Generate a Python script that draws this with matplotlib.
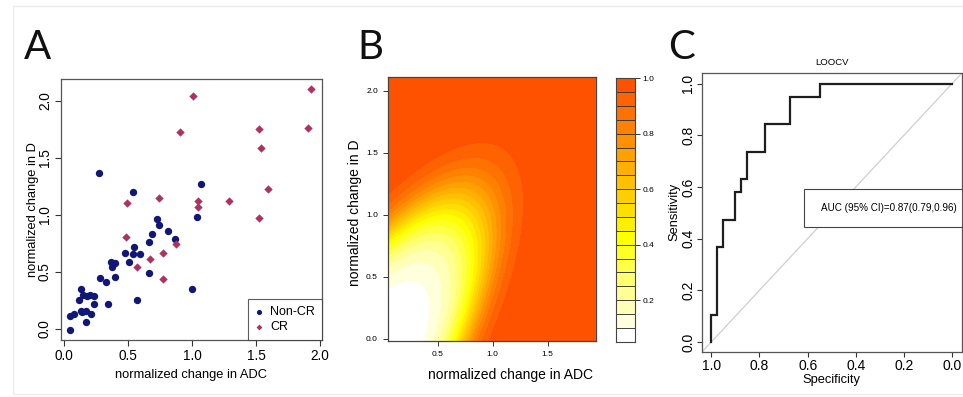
import numpy as np
import matplotlib
matplotlib.use("Agg")
import matplotlib.pyplot as plt
from matplotlib.patches import Rectangle
from matplotlib.colors import LinearSegmentedColormap

plt.rcParams['font.family'] = ['Liberation Sans', 'DejaVu Sans']

# ---------------- data ----------------
# Panel A: scatter (normalized change in ADC, normalized change in D)
noncr_adc = [0.05, 0.045, 0.075, 0.27, 0.54, 1.07, 1.04, 1.00, 0.57, 0.73,
             0.745, 0.81, 0.87, 0.69, 0.66, 0.66, 0.545, 0.475, 0.535, 0.59,
             0.51, 0.365, 0.40, 0.375, 0.40, 0.28, 0.325, 0.34, 0.135, 0.12,
             0.15, 0.18, 0.20, 0.235, 0.23, 0.14, 0.175, 0.21, 0.175, 0.13]
noncr_d = [-0.01, 0.115, 0.13, 1.37, 1.20, 1.27, 0.98, 0.35, 0.255, 0.96,
           0.915, 0.86, 0.79, 0.83, 0.76, 0.495, 0.72, 0.665, 0.66, 0.655,
           0.59, 0.585, 0.58, 0.54, 0.455, 0.45, 0.415, 0.22, 0.35, 0.25,
           0.30, 0.29, 0.30, 0.29, 0.22, 0.145, 0.155, 0.135, 0.06, 0.16]
cr_adc = [1.93, 1.01, 0.905, 1.525, 1.535, 1.905, 1.59, 1.285, 1.05, 1.045,
          1.525, 0.74, 0.49, 0.48, 0.875, 0.77, 0.675, 0.57, 0.775]
cr_d = [2.105, 2.04, 1.725, 1.75, 1.59, 1.765, 1.23, 1.125, 1.125, 1.065,
        0.975, 1.15, 1.10, 0.81, 0.745, 0.665, 0.61, 0.545, 0.435]

# Panel B: fitted logistic surface  logit(p) = b0 + b1*ADC + b2*D + b3*ADC^2 + b4*ADC*D + b5*D^2
coef_b0, coef_adc, coef_d = -3.17, 0.14, 1.285
coef_adc2, coef_adcd, coef_d2 = 6.41, -7.42, 3.74
prob_levels = [round(0.05 * k, 2) for k in range(1, 21)]   # 0.05 ... 1.00
cbar_ticks = [0.2, 0.4, 0.6, 0.8, 1.0]

# Panel C: ROC (LOOCV)
roc_spec = [1.0, 1.0, 0.975, 0.975, 0.95, 0.95, 0.90, 0.90, 0.875, 0.875,
            0.85, 0.85, 0.775, 0.775, 0.675, 0.675, 0.55, 0.55, 0.0]
roc_sens = [0.0, 0.105, 0.105, 0.368, 0.368, 0.474, 0.474, 0.579, 0.579, 0.632,
            0.632, 0.737, 0.737, 0.842, 0.842, 0.947, 0.947, 1.0, 1.0]
auc_text = "AUC (95% CI)=0.87(0.79,0.96)"

# ---------------- figure ----------------
W, H = 963, 397
fig = plt.figure(figsize=(W / 100, H / 100), dpi=100)


def rect(l, t, r, b):
    return [l / W, 1 - b / H, (r - l) / W, (b - t) / H]


def fx(x):
    return x / W


def fy(y):
    return 1 - y / H


# faint outer frame
fig.patches.append(Rectangle((fx(13), fy(394)), fx(963 - 13 + 5), (394 - 6) / H,
                             transform=fig.transFigure, fill=False,
                             edgecolor='#ececec', lw=1.0))

BLUE = '#111679'
RED = '#b03060'
FRAME = '#333333'

# ---------- Panel A ----------
axA = fig.add_axes(rect(61, 79, 321.7, 340))
axA.scatter(noncr_adc, noncr_d, s=28, c=BLUE, marker='o', linewidths=0, zorder=3)
axA.scatter(cr_adc, cr_d, s=18, c=RED, marker='D', linewidths=0, zorder=3)
axA.set_xlim(-0.024, 2.013)
axA.set_ylim(-0.096, 2.19)
axA.set_xticks([0.0, 0.5, 1.0, 1.5, 2.0])
axA.set_yticks([0.0, 0.5, 1.0, 1.5, 2.0])
axA.set_xticklabels(['0.0', '0.5', '1.0', '1.5', '2.0'], fontsize=9.8)
axA.set_yticklabels(['0.0', '0.5', '1.0', '1.5', '2.0'], fontsize=9.8,
                    rotation=90, va='center')
axA.tick_params(length=4, width=0.8, color=FRAME, pad=2.5)
for sp in axA.spines.values():
    sp.set_color('#555555')
    sp.set_linewidth(0.9)
leg = axA.legend(['Non-CR', 'CR'], loc='lower right', bbox_to_anchor=(1.0, 0.0),
                 borderaxespad=0, fontsize=9, handlelength=0.7, handletextpad=0.5,
                 borderpad=0.55, labelspacing=0.25, fancybox=False,
                 markerscale=0.7)
leg.get_frame().set_edgecolor('#333333')
leg.get_frame().set_linewidth(0.8)
fig.text(fx(191), fy(375), 'normalized change in ADC', fontsize=9.3,
         ha='center', va='center')
fig.text(fx(33), fy(210), 'normalized change in D', fontsize=9.3,
         ha='center', va='center', rotation=90)

# ---------- Panel B ----------
XMIN, XMAX, YMIN, YMAX = 0.045, 1.936, -0.02, 2.11
axB = fig.add_axes(rect(387.7, 77.3, 595.7, 341))
gx = np.linspace(XMIN, XMAX, 400)
gy = np.linspace(YMIN, YMAX, 400)
GX, GY = np.meshgrid(gx, gy)
logit = (coef_b0 + coef_adc * GX + coef_d * GY + coef_adc2 * GX ** 2
         + coef_adcd * GX * GY + coef_d2 * GY ** 2)
P = 1.0 / (1.0 + np.exp(-logit))
P = np.clip(P, 0, 0.99999)
cmap = LinearSegmentedColormap.from_list(
    'wyo', [(0.0, '#ffffff'), (7 / 18, '#ffff00'), (1.0, '#ff5200')])
nb = len(prob_levels) - 1
band_colors = [cmap(i / (nb - 1)) for i in range(nb)]
axB.contourf(GX, GY, P, levels=prob_levels, colors=band_colors, antialiased=True)
axB.contourf(GX, GY, P, levels=prob_levels, colors=band_colors, antialiased=True)
axB.set_xlim(XMIN, XMAX)
axB.set_ylim(YMIN, YMAX)
axB.set_xticks([0.5, 1.0, 1.5])
axB.set_xticklabels(['0.5', '1.0', '1.5'], fontsize=6)
axB.set_yticks([0.0, 0.5, 1.0, 1.5, 2.0])
axB.set_yticklabels(['0.0', '0.5', '1.0', '1.5', '2.0'], fontsize=6)
axB.tick_params(length=3.5, width=0.7, color=FRAME, pad=3.5)
for sp in axB.spines.values():
    sp.set_color('#444444')
    sp.set_linewidth(0.9)
fig.text(fx(510), fy(375), 'normalized change in ADC', fontsize=10,
         ha='center', va='center')
fig.text(fx(355), fy(213), 'normalized change in D', fontsize=10,
         ha='center', va='center', rotation=90)

# colour key
axK = fig.add_axes(rect(616, 78.3, 634.7, 341.7))
axK.bar([0] * nb, [prob_levels[i + 1] - prob_levels[i] for i in range(nb)],
        bottom=prob_levels[:-1], width=1.0, color=band_colors,
        edgecolor='#333333', linewidth=0.6)
axK.set_xlim(-0.5, 0.5)
axK.set_ylim(prob_levels[0], prob_levels[-1])
axK.set_xticks([])
axK.yaxis.tick_right()
axK.set_yticks(cbar_ticks)
axK.set_yticklabels([f'{t:.1f}' for t in cbar_ticks], fontsize=6)
axK.tick_params(length=3.5, width=0.7, color=FRAME, pad=2)
for sp in axK.spines.values():
    sp.set_color('#444444')
    sp.set_linewidth(0.8)

# ---------- Panel C ----------
axC = fig.add_axes(rect(701.7, 73.3, 961.7, 352.3))
axC.set_xlim(1.04, -0.04)
axC.set_ylim(-0.04, 1.04)
axC.axline((1.0, 0.0), (0.0, 1.0), color='#cfcfcf', lw=0.9, zorder=1)
axC.plot(roc_spec, roc_sens, color='#1e1e1e', lw=1.6, zorder=3,
         solid_joinstyle='miter')
ticksC = [1.0, 0.8, 0.6, 0.4, 0.2, 0.0]
axC.set_xticks(ticksC)
axC.set_xticklabels([f'{t:.1f}' for t in ticksC], fontsize=10)
axC.set_yticks(ticksC)
axC.set_yticklabels([f'{t:.1f}' for t in ticksC], fontsize=10, rotation=90,
                    va='center')
axC.tick_params(length=3.5, width=0.8, color=FRAME, pad=1.2)
for sp in axC.spines.values():
    sp.set_color('#555555')
    sp.set_linewidth(0.9)
axC.set_title('LOOCV', fontsize=6.8, pad=6)
axC.add_patch(Rectangle((-0.04, 0.444), 0.617 + 0.04, 0.148, fill=True,
                        facecolor='white', edgecolor='#444444', lw=0.8,
                        zorder=4))
axC.text(-0.018, 0.518, auc_text, fontsize=7.1, ha='right', va='center',
         zorder=5)
fig.text(fx(831.7), fy(380), 'Specificity', fontsize=9.3, ha='center',
         va='center')
fig.text(fx(674), fy(212), 'Sensitivity', fontsize=9.3, ha='center',
         va='center', rotation=90)

# panel letters
for letter, xp in [('A', 24), ('B', 357), ('C', 668)]:
    fig.text(fx(xp), fy(59), letter, fontsize=29, family=['Lato', 'DejaVu Sans'],
             ha='left', va='baseline', color='#111111')

fig.savefig('out.png', dpi=100)
